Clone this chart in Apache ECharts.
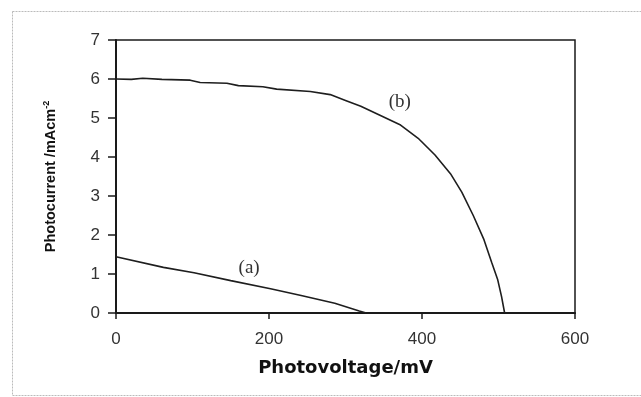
<!DOCTYPE html>
<html>
<head>
<meta charset="utf-8">
<script src="https://cdn.jsdelivr.net/npm/echarts@6/dist/echarts.min.js"></script>
<style>
  html, body { margin: 0; padding: 0; background: #fff; }
  #chart { width: 641px; height: 397px; }
</style>
</head>
<body>
<div id="chart"></div>
<script>
// curve (b): photovoltage (mV) and photocurrent (mA cm^-2)
const voltageB = [0, 20, 35, 60, 97, 110, 145, 160, 192, 210, 254, 280, 300, 320, 345, 372, 395, 417, 438, 452, 467, 481, 491, 499, 504, 508];
const currentB = [6.0, 5.99, 6.02, 5.99, 5.97, 5.91, 5.89, 5.83, 5.8, 5.74, 5.68, 5.6, 5.45, 5.3, 5.07, 4.82, 4.48, 4.05, 3.55, 3.1, 2.5, 1.88, 1.3, 0.85, 0.42, 0];

// curve (a)
const voltageA = [0, 62, 102, 150, 202, 242, 286, 318, 327];
const currentA = [1.44, 1.17, 1.03, 0.83, 0.62, 0.45, 0.25, 0.05, 0];

const xTicks = [0, 200, 400, 600];
const yTicks = [0, 1, 2, 3, 4, 5, 6, 7];

const pairs = (xs, ys) => xs.map((x, i) => [x, ys[i]]);

const chart = echarts.init(document.getElementById('chart'));

// shared style for the two curves
const lineStyle = { color: '#1e1e1e', width: 1.6 };
const curveLabel = {
  show: true,
  position: 'inside',
  fontFamily: 'Liberation Serif',
  fontSize: 19,
  color: '#333'
};

chart.setOption({
  backgroundColor: '#fff',
  animation: false,
  // scanned frame around the figure
  graphic: [{
    type: 'rect',
    shape: { x: 12.5, y: 11.5, width: 700, height: 384 },
    style: { fill: 'none', stroke: '#bbb', lineWidth: 1, lineDash: [2, 1] },
    silent: true
  }],
  grid: {
    left: 116, right: 66, top: 40, bottom: 84,
    show: true,
    borderColor: '#1a1a1a',
    borderWidth: 1.5
  },
  xAxis: {
    type: 'value',
    min: xTicks[0],
    max: xTicks[xTicks.length - 1],
    interval: 200,
    name: 'Photovoltage/mV',
    nameLocation: 'middle',
    nameGap: 46,
    nameTextStyle: { fontFamily: 'DejaVu Sans', fontWeight: 'bold', fontSize: 18, color: '#111' },
    axisLine: { lineStyle: { color: '#1a1a1a', width: 2 } },
    axisTick: { length: 6, lineStyle: { color: '#1a1a1a', width: 1.5 } },
    axisLabel: { margin: 18, fontFamily: 'Liberation Sans', fontSize: 17, color: '#333' },
    splitLine: { show: false }
  },
  yAxis: {
    type: 'value',
    min: yTicks[0],
    max: yTicks[yTicks.length - 1],
    interval: 1,
    name: '{a|Photocurrent /mAcm}{s|-2}',
    nameLocation: 'middle',
    nameGap: 56,
    nameRotate: 90,
    nameTextStyle: {
      rich: {
        a: { fontFamily: 'Liberation Sans', fontWeight: 'bold', fontSize: 14.5, color: '#111', lineHeight: 18 },
        s: { fontFamily: 'Liberation Sans', fontWeight: 'bold', fontSize: 9, color: '#111', verticalAlign: 'top', lineHeight: 18, padding: [0, 0, 8, 0] }
      }
    },
    axisLine: { show: true, lineStyle: { color: '#1a1a1a', width: 2 } },
    axisTick: { show: true, length: 8, lineStyle: { color: '#1a1a1a', width: 1.5 } },
    axisLabel: { margin: 16, fontFamily: 'Liberation Sans', fontSize: 17, color: '#333' },
    splitLine: { show: false }
  },
  series: [
    {
      name: '(b)',
      type: 'line',
      data: pairs(voltageB, currentB),
      showSymbol: false,
      lineStyle: lineStyle,
      markPoint: {
        symbolSize: 0,
        data: [{ coord: [371, 5.41], label: Object.assign({ formatter: '(b)' }, curveLabel) }]
      }
    },
    {
      name: '(a)',
      type: 'line',
      data: pairs(voltageA, currentA),
      showSymbol: false,
      lineStyle: lineStyle,
      markPoint: {
        symbolSize: 0,
        data: [{ coord: [174, 1.16], label: Object.assign({ formatter: '(a)' }, curveLabel) }]
      }
    }
  ]
});
</script>
</body>
</html>
